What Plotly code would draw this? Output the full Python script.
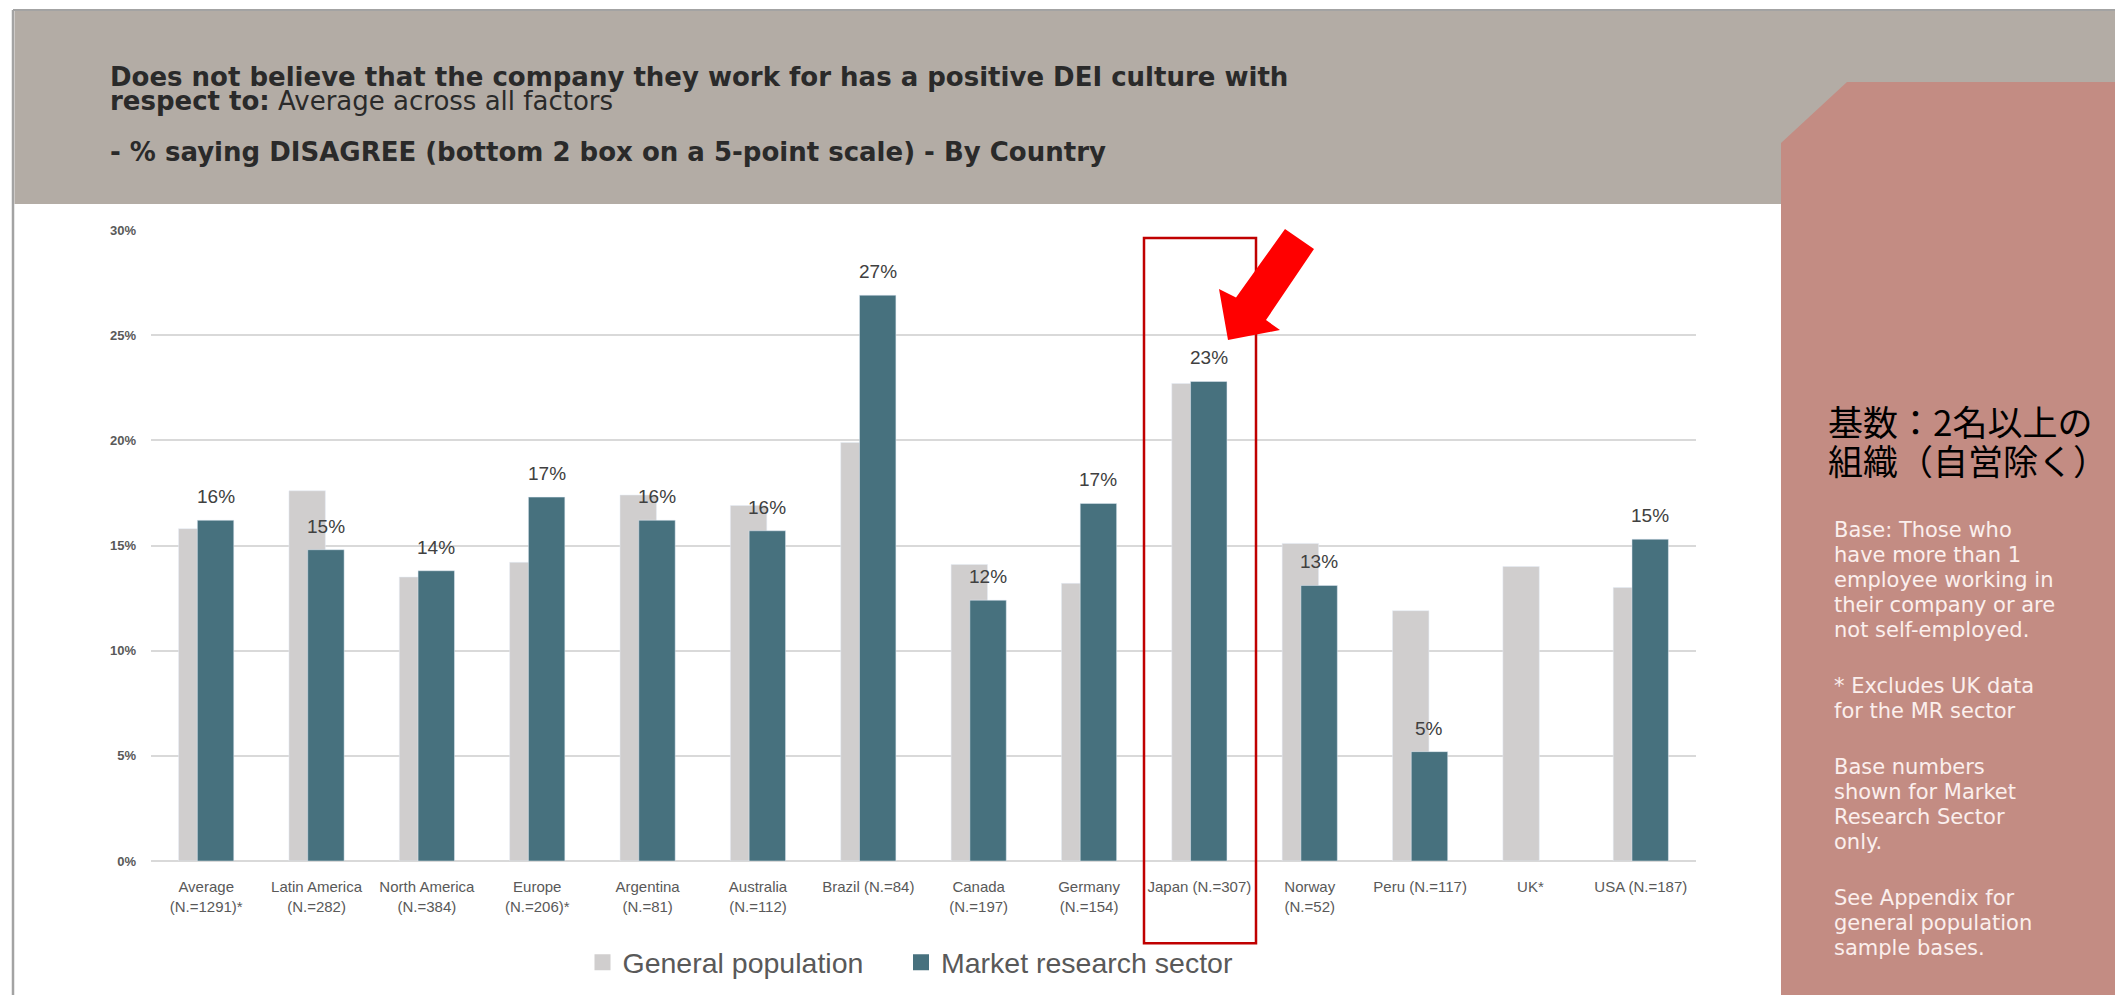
import plotly.graph_objects as go

# ---- data -------------------------------------------------------------
categories = [
    "Average<br>(N.=1291)*", "Latin America<br>(N.=282)", "North America<br>(N.=384)",
    "Europe<br>(N.=206)*", "Argentina<br>(N.=81)", "Australia<br>(N.=112)",
    "Brazil (N.=84)", "Canada<br>(N.=197)", "Germany<br>(N.=154)", "Japan (N.=307)",
    "Norway<br>(N.=52)", "Peru (N.=117)", "UK*", "USA (N.=187)",
]
general_population = [0.158, 0.176, 0.135, 0.142, 0.174, 0.169, 0.199, 0.141,
                      0.132, 0.227, 0.151, 0.119, 0.140, 0.130]
market_research = [0.162, 0.148, 0.138, 0.173, 0.162, 0.157, 0.269, 0.124,
                   0.170, 0.228, 0.131, 0.052, None, 0.153]
y_ticks = [0, 0.05, 0.10, 0.15, 0.20, 0.25, 0.30]

title_line1 = "Does not believe that the company they work for has a positive DEI culture with"
title_line2_bold = "respect to:"
title_line2 = "Average across all factors"
title_line3 = "- % saying DISAGREE (bottom 2 box on a 5-point scale) - By Country"
panel_heading = ["基数：2名以上の", "組織（自営除く）"]
panel_note = ["Base: Those who", "have more than 1", "employee working in",
              "their company or are", "not self-employed.", "",
              "* Excludes UK data", "for the MR sector", "",
              "Base numbers", "shown for Market", "Research Sector", "only.", "",
              "See Appendix for", "general population", "sample bases."]

# ---- layout geometry (pixels) -----------------------------------------
W, H = 2115, 995
L, R, T, B = 151, 1696, 230, 860.7


def fx(px):
    return (px - L) / (R - L)


def fy(py):
    return (B - py) / (B - T)


GEN_COLOR = "#d0cece"
MR_COLOR = "#47717e"
BAR_W = 0.33
GEN_OFF = -0.25
MR_OFF = -0.08
CAT_PX = (R - L) / len(categories)

fig = go.Figure()
fig.add_trace(go.Bar(x=categories, y=general_population, name="General population",
                     marker_color=GEN_COLOR, width=BAR_W, offset=GEN_OFF,
                     showlegend=False, legendgroup="gen"))
fig.add_trace(go.Bar(x=categories, y=market_research, name="Market research sector",
                     marker_color=MR_COLOR, width=BAR_W, offset=MR_OFF,
                     showlegend=False, legendgroup="mr"))
# legend entries with larger square swatches, one legend box per series
fig.add_trace(go.Scatter(x=[None], y=[None], mode="markers", name="General population",
                         marker=dict(symbol="square", size=16, color=GEN_COLOR),
                         legendgroup="gen", legend="legend"))
fig.add_trace(go.Scatter(x=[None], y=[None], mode="markers", name="Market research sector",
                         marker=dict(symbol="square", size=16, color=MR_COLOR),
                         legendgroup="mr", legend="legend2"))

annotations = []
# value labels above the market research bars
mr_center_px = (MR_OFF + BAR_W / 2) * CAT_PX
for cat, v in zip(categories, market_research):
    if v is None:
        continue
    annotations.append(dict(x=cat, y=v, xref="x", yref="y", text=f"{v:.0%}",
                            showarrow=False, xshift=mr_center_px, yshift=11,
                            yanchor="bottom",
                            font=dict(family="Liberation Sans", size=19, color="#404040")))

TITLE_FONT = "DejaVu Sans"
TITLE_FS = 26
title_color = "#2a2a2a"
title_annotations = [
    dict(x=fx(108), y=fy(77), text=title_line1, font=dict(family=TITLE_FONT, size=TITLE_FS,
         color=title_color, weight=700)),
    dict(x=fx(108), y=fy(101), text=f"<b>{title_line2_bold}</b> {title_line2}",
         font=dict(family=TITLE_FONT, size=TITLE_FS, color=title_color)),
    dict(x=fx(108), y=fy(152), text=title_line3, font=dict(family=TITLE_FONT, size=TITLE_FS,
         color=title_color, weight=700)),
]
for a in title_annotations:
    a.update(xref="paper", yref="paper", xanchor="left", yanchor="middle", showarrow=False)
annotations += title_annotations

for i, line in enumerate(panel_heading):
    annotations.append(dict(x=fx(1826), y=fy(420 + i * 39), xref="paper", yref="paper",
                            text=line, showarrow=False, xanchor="left", yanchor="middle",
                            font=dict(family="Noto Sans CJK JP", size=35, color="#000000")))

baseline = 537
NOTE_FS = 21
for line in panel_note:
    if not line:
        baseline += 31
        continue
    annotations.append(dict(x=fx(1832), y=fy(baseline - 0.33 * NOTE_FS), xref="paper",
                            yref="paper", text=line, showarrow=False, xanchor="left",
                            yanchor="middle",
                            font=dict(family="DejaVu Sans", size=NOTE_FS, color="#fbefed")))
    baseline += 25

shapes = [
    # slide frame
    dict(type="line", xref="paper", yref="paper", x0=fx(13), x1=fx(13), y0=fy(10), y1=fy(H),
         line=dict(color="#a3a3a3", width=2.5), layer="below"),
    dict(type="line", xref="paper", yref="paper", x0=fx(13), x1=fx(W), y0=fy(10), y1=fy(10),
         line=dict(color="#a3a3a3", width=2), layer="below"),
    # header band
    dict(type="rect", xref="paper", yref="paper", x0=fx(14.5), x1=fx(W), y0=fy(11), y1=fy(204),
         fillcolor="#b3aca5", line_width=0, layer="below"),
    # side panel with clipped corner
    dict(type="path", xref="paper", yref="paper",
         path=(f"M{fx(1781)},{fy(H)} L{fx(1781)},{fy(143)} L{fx(1847)},{fy(82)} "
               f"L{fx(W)},{fy(82)} L{fx(W)},{fy(H)} Z"),
         fillcolor="#c38c83", line_width=0, layer="below"),
    # highlight box around Japan
    dict(type="rect", xref="paper", yref="paper", x0=fx(1144), x1=fx(1256), y0=fy(238),
         y1=fy(943), line=dict(color="#c00000", width=2.5), fillcolor="rgba(0,0,0,0)",
         layer="above"),
    # pointing arrow
    dict(type="path", xref="paper", yref="paper",
         path=(f"M{fx(1285)},{fy(229)} L{fx(1314)},{fy(249)} L{fx(1266)},{fy(320)} "
               f"L{fx(1280)},{fy(330)} L{fx(1228)},{fy(340)} L{fx(1219)},{fy(289)} "
               f"L{fx(1236)},{fy(297.5)} Z"),
         fillcolor="#ff0000", line_width=0, layer="above"),
]

legend_style = dict(orientation="h", xanchor="left", yanchor="top",
                    bgcolor="rgba(0,0,0,0)",
                    font=dict(family="Liberation Sans", size=28.5, color="#595959"))

fig.update_layout(
    width=W, height=H, autosize=False,
    margin=dict(l=L, r=W - R, t=T, b=H - B, pad=0, autoexpand=False),
    paper_bgcolor="white", plot_bgcolor="white",
    barmode="overlay",
    showlegend=True,
    legend=dict(x=fx(582.5), y=fy(937), **legend_style),
    legend2=dict(x=fx(901), y=fy(937), **legend_style),
    xaxis=dict(type="category", showgrid=False, showline=False, ticks="",
               ticklabelstandoff=15,
               tickfont=dict(family="Liberation Sans", size=15, color="#595959"),
               tickangle=0, fixedrange=True),
    yaxis=dict(range=[0, 0.30], tickvals=y_ticks, tickformat=".0%", showgrid=True,
               gridcolor="#d9d9d9", gridwidth=1.5, zeroline=True, zerolinecolor="#d9d9d9",
               zerolinewidth=2, showline=False, ticks="", ticklabelstandoff=14,
               tickfont=dict(family="Liberation Sans", size=13, color="#595959", weight=700),
               fixedrange=True),
    annotations=annotations,
    shapes=shapes,
)

fig.write_html("out.html")
